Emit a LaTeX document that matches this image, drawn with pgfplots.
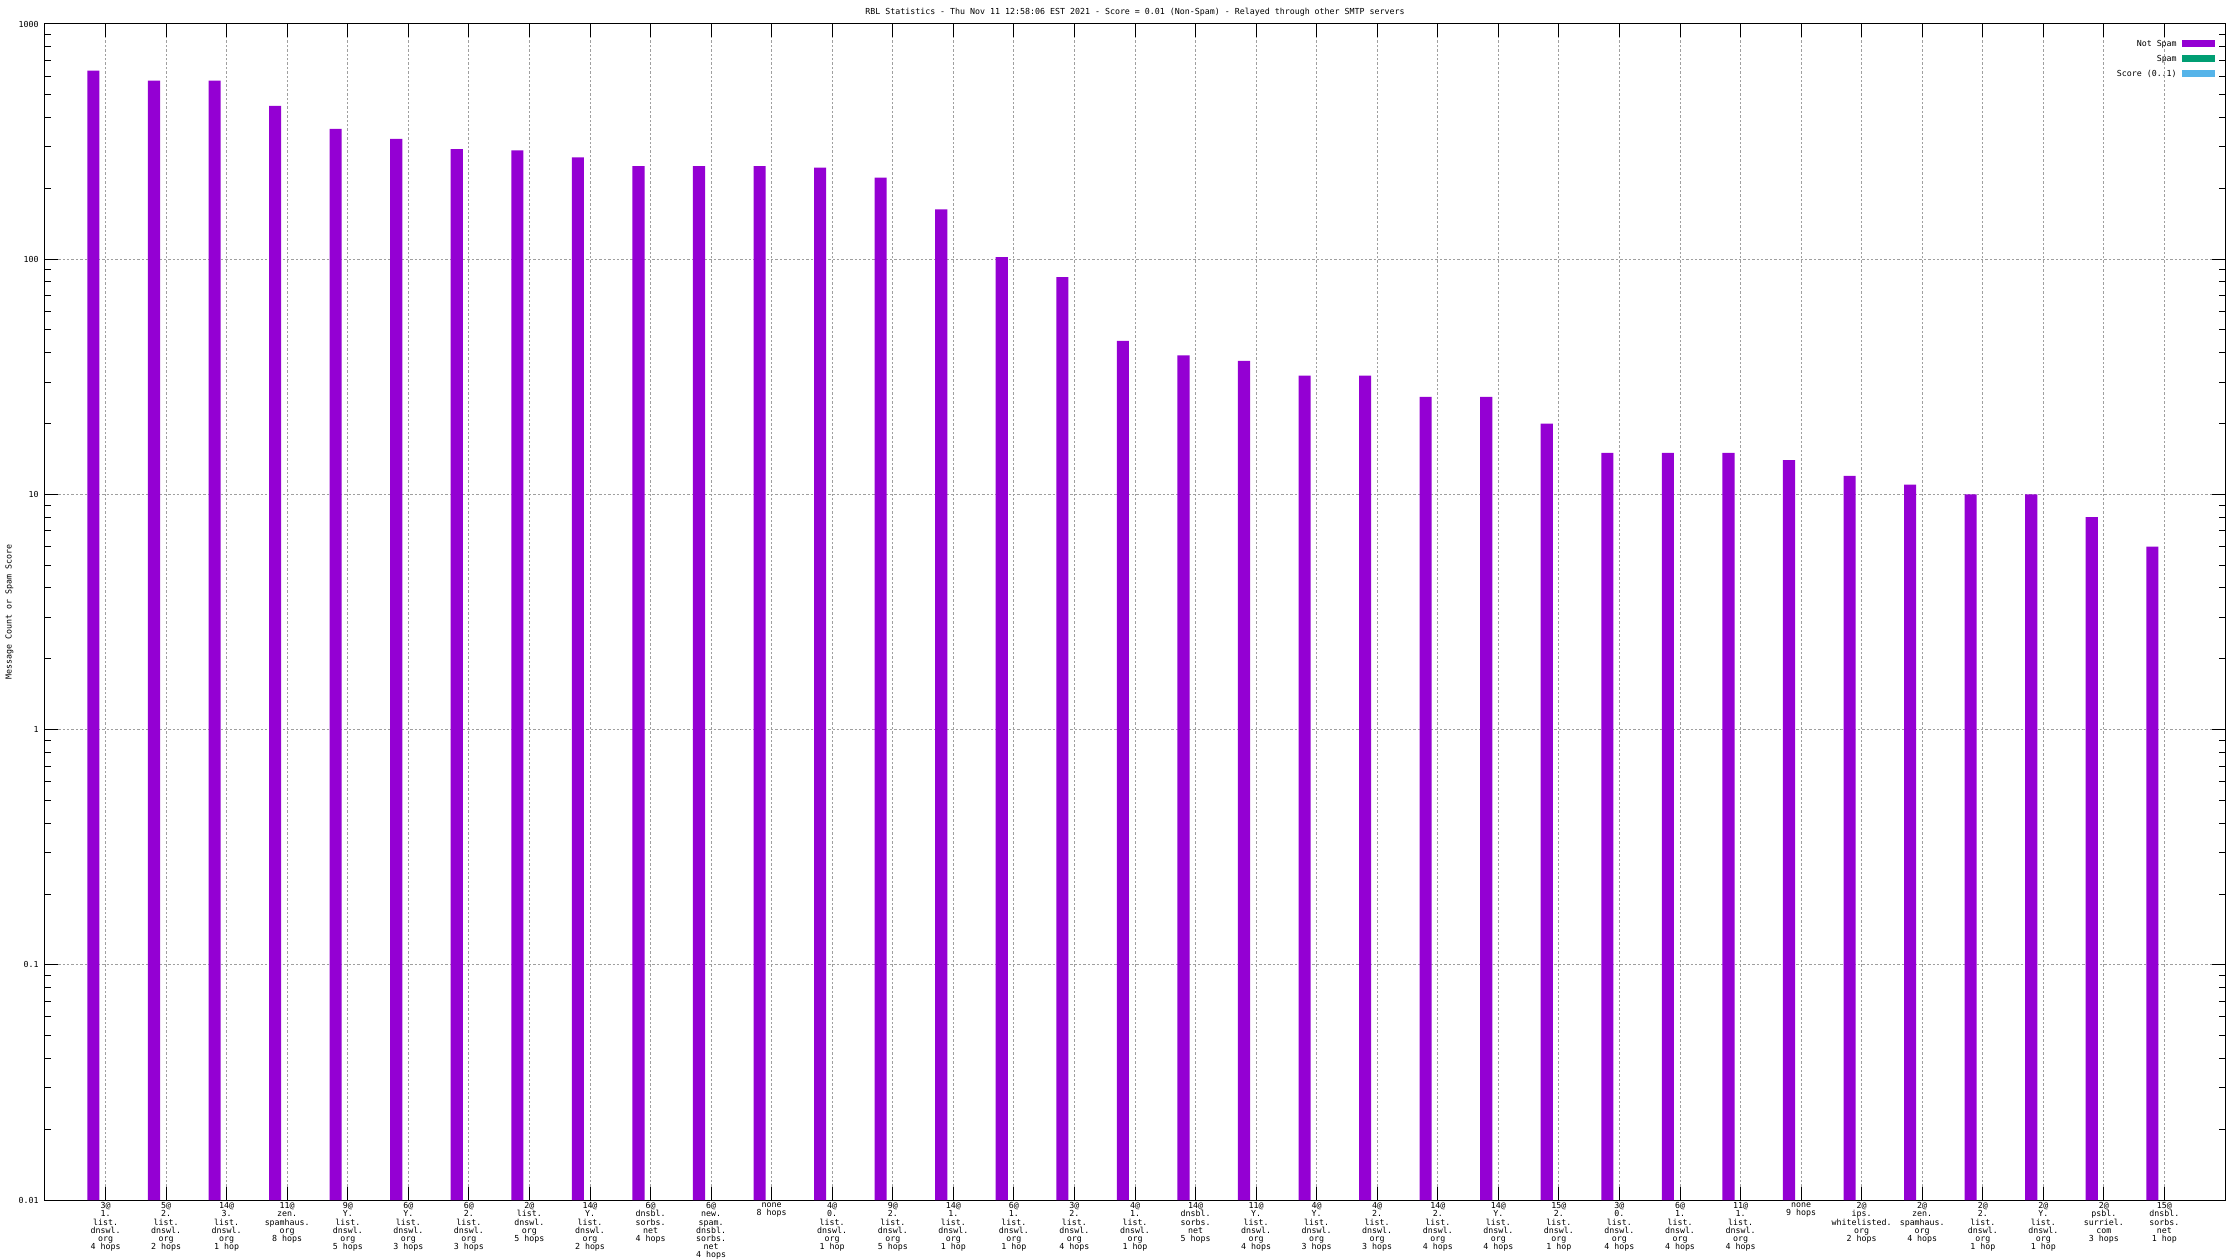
\documentclass[border=0pt]{standalone}
\usepackage{pgfplots}
\pgfplotsset{compat=1.18}
\usepackage{fontspec}
\newfontfamily\gpfamily{DejaVu Sans Mono}
\newcommand{\gp}{\gpfamily\fontsize{5.9pt}{5.8pt}\selectfont}
\definecolor{notspam}{HTML}{9400D3}
\definecolor{spam}{HTML}{009E73}
\definecolor{score}{HTML}{56B4E9}
\pgfplotsset{gpbox/.style={legend image code/.code={\fill[##1] (0mm,-0.85mm) rectangle (8.25mm,0.85mm);}}}

\begin{document}
\begin{tikzpicture}
\begin{axis}[
    at={(0,0)}, anchor=south west,
    scale only axis,
    width=545mm, height=294mm,
    ymode=log, log origin y=infty,
    ybar,
    xmin=-1, xmax=35,
    ymin=0.01, ymax=1000,
    axis line style={line width=0.25mm},
    tick align=inside,
    every tick/.style={black, line width=0.25mm},
    major tick length=3.25mm, minor tick length=1.6mm,
    xtick={0,...,34},
    ytick={0.01,0.1,1,10,100,1000},
    yticklabels={0.01,0.1,1,10,100,1000},
    minor ytick={0.02,0.03,0.04,0.05,0.06,0.07,0.08,0.09,
                 0.2,0.3,0.4,0.5,0.6,0.7,0.8,0.9,
                 2,3,4,5,6,7,8,9,
                 20,30,40,50,60,70,80,90,
                 200,300,400,500,600,700,800,900},
    xmajorgrids, ymajorgrids,
    major grid style={gray!75, line width=0.25mm, dash pattern=on 0.6mm off 0.5mm},
    /pgf/number format/assume math mode=true,
    tick label style={font=\gp},
    yticklabel style={anchor=east, inner sep=0pt, xshift=-1.5mm},
    xticklabel style={anchor=north, inner sep=0pt, align=center, yshift=-0.6mm},
    xticklabels={
      {3@\\1.\\list.\\dnswl.\\org\\4 hops},
      {5@\\2.\\list.\\dnswl.\\org\\2 hops},
      {14@\\3.\\list.\\dnswl.\\org\\1 hop},
      {11@\\zen.\\spamhaus.\\org\\8 hops},
      {9@\\Y.\\list.\\dnswl.\\org\\5 hops},
      {6@\\Y.\\list.\\dnswl.\\org\\3 hops},
      {6@\\2.\\list.\\dnswl.\\org\\3 hops},
      {2@\\list.\\dnswl.\\org\\5 hops},
      {14@\\Y.\\list.\\dnswl.\\org\\2 hops},
      {6@\\dnsbl.\\sorbs.\\net\\4 hops},
      {6@\\new.\\spam.\\dnsbl.\\sorbs.\\net\\4 hops},
      {none\\8 hops},
      {4@\\0.\\list.\\dnswl.\\org\\1 hop},
      {9@\\2.\\list.\\dnswl.\\org\\5 hops},
      {14@\\1.\\list.\\dnswl.\\org\\1 hop},
      {6@\\1.\\list.\\dnswl.\\org\\1 hop},
      {3@\\2.\\list.\\dnswl.\\org\\4 hops},
      {4@\\1.\\list.\\dnswl.\\org\\1 hop},
      {14@\\dnsbl.\\sorbs.\\net\\5 hops},
      {11@\\Y.\\list.\\dnswl.\\org\\4 hops},
      {4@\\Y.\\list.\\dnswl.\\org\\3 hops},
      {4@\\2.\\list.\\dnswl.\\org\\3 hops},
      {14@\\2.\\list.\\dnswl.\\org\\4 hops},
      {14@\\Y.\\list.\\dnswl.\\org\\4 hops},
      {15@\\2.\\list.\\dnswl.\\org\\1 hop},
      {3@\\0.\\list.\\dnswl.\\org\\4 hops},
      {6@\\1.\\list.\\dnswl.\\org\\4 hops},
      {11@\\1.\\list.\\dnswl.\\org\\4 hops},
      {none\\9 hops},
      {2@\\ips.\\whitelisted.\\org\\2 hops},
      {2@\\zen.\\spamhaus.\\org\\4 hops},
      {2@\\2.\\list.\\dnswl.\\org\\1 hop},
      {2@\\Y.\\list.\\dnswl.\\org\\1 hop},
      {2@\\psbl.\\surriel.\\com\\3 hops},
      {15@\\dnsbl.\\sorbs.\\net\\1 hop}},
    title={RBL Statistics - Thu Nov 11 12:58:06 EST 2021 - Score = 0.01 (Non-Spam) - Relayed through other SMTP servers},
    title style={font=\gp, at={(axis description cs:0.5,1)}, anchor=base, yshift=0.3mm, inner sep=0pt},
    ylabel={Message Count or Spam Score},
    ylabel style={font=\gp, at={(axis description cs:-0.0163,0.5)}, anchor=center, inner sep=0pt},
    legend plot pos=right,
    legend cell align=right,
    legend style={at={(axis description cs:1,1)}, anchor=north east,
        xshift=-2.5mm, yshift=-3.9mm, draw=none, fill=none, font=\gp,
        inner sep=0pt, row sep=1.75mm, column sep=1.25mm,
        nodes={inner sep=0pt, text height=1.6mm, text depth=0.4mm}},
]
% Not Spam
\addplot[fill=notspam, draw=none, bar width=0.2, bar shift=-0.2, gpbox]
  coordinates {
    (0,633) (1,575) (2,575) (3,449) (4,358) (5,325) (6,294) (7,290) (8,271)
    (9,249) (10,249) (11,249) (12,245) (13,222) (14,163) (15,102) (16,84)
    (17,45) (18,39) (19,37) (20,32) (21,32) (22,26) (23,26) (24,20)
    (25,15) (26,15) (27,15) (28,14) (29,12) (30,11) (31,10) (32,10)
    (33,8) (34,6)
  };
\addlegendentry{Not Spam}
% Spam / Score: keine Daten, nur Legende
\addlegendimage{fill=spam, draw=none, gpbox}
\addlegendentry{Spam}
\addlegendimage{fill=score, draw=none, gpbox}
\addlegendentry{Score (0..1)}
\end{axis}
\pgfresetboundingbox
\path[use as bounding box] (-11.25mm,-15mm) rectangle (548.75mm,300mm);
\end{tikzpicture}
\end{document}
